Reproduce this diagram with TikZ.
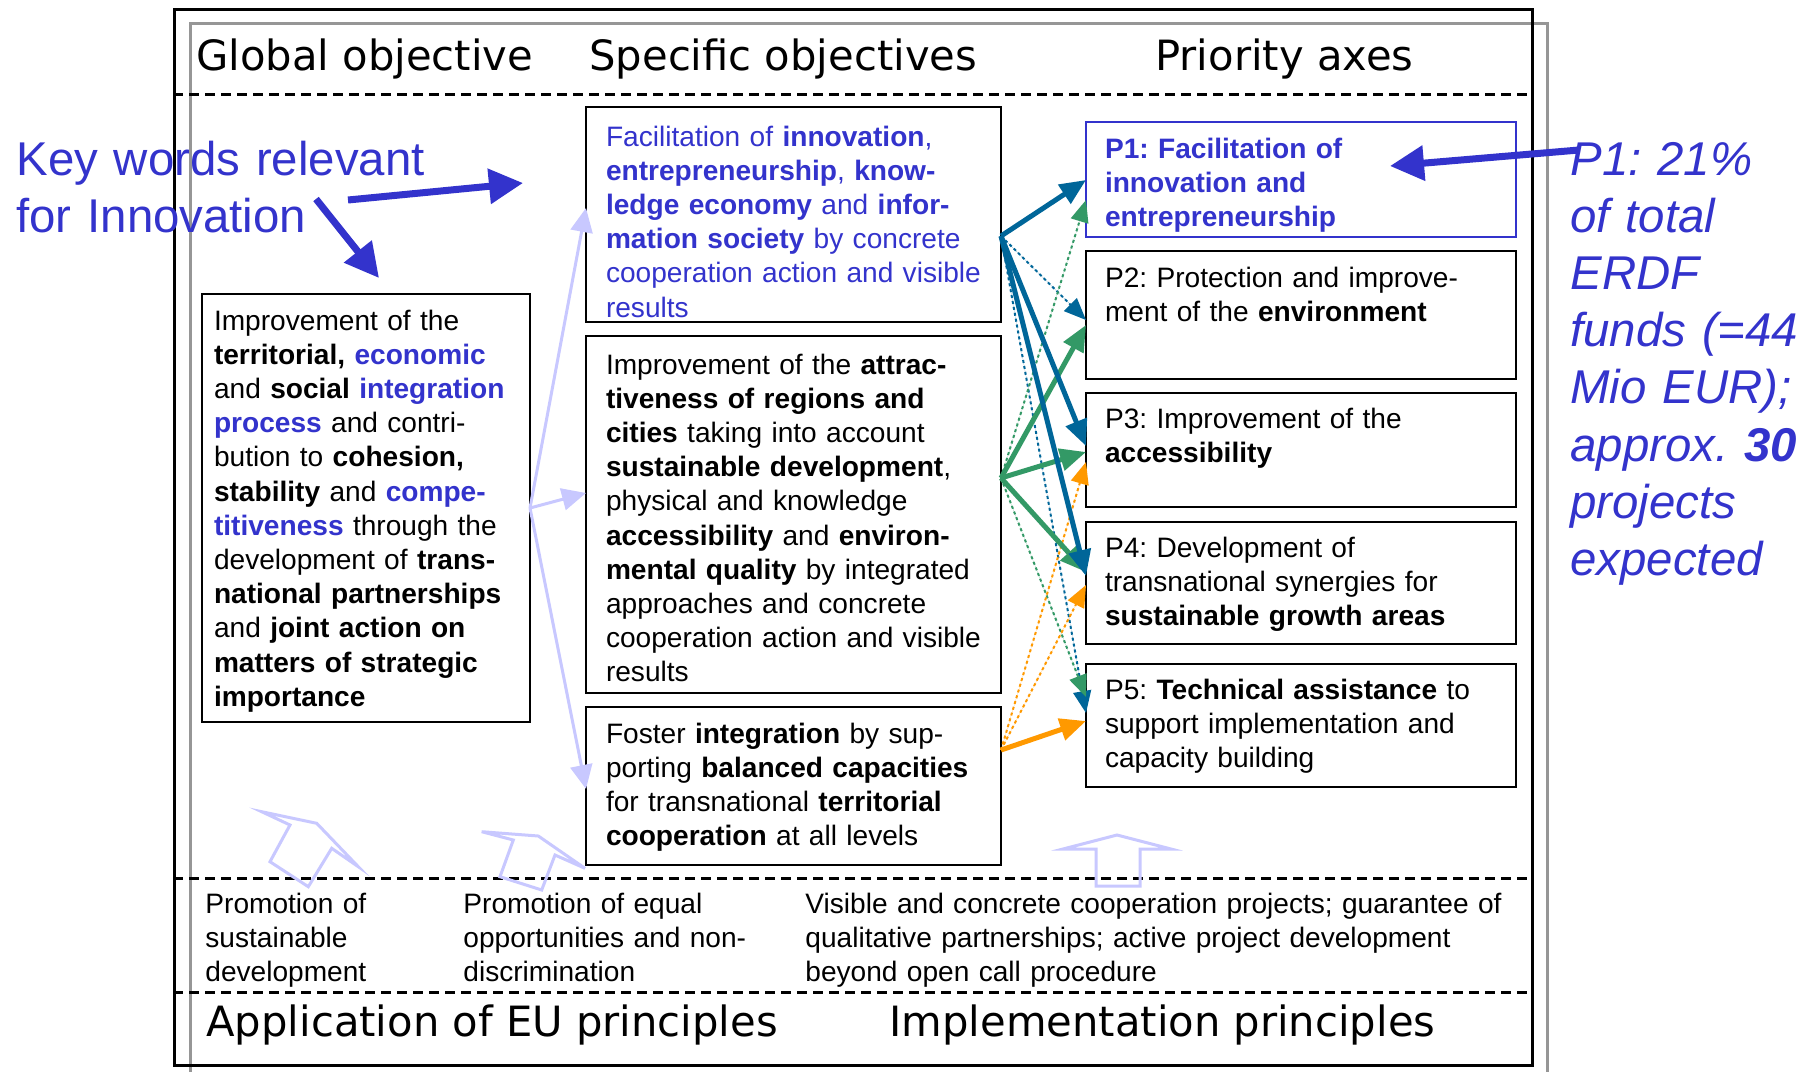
\documentclass[tikz,border=0pt]{standalone}
\usepackage{fontspec}
\setmainfont{Liberation Sans}
\newfontfamily\hdfont{DejaVu Sans}
\usetikzlibrary{arrows.meta}
\definecolor{kwblue}{RGB}{51,51,204}
\definecolor{ablue}{RGB}{0,102,153}
\definecolor{agreen}{RGB}{51,153,102}
\definecolor{aorange}{RGB}{255,153,0}
\definecolor{lav}{RGB}{200,200,255}
\definecolor{gframe}{RGB}{150,150,150}
\frenchspacing
\newcommand{\boxtxt}{\frenchspacing\fontsize{14.05pt}{17.1pt}\selectfont}
\newcommand{\headtxt}{\hdfont\fontsize{20.85pt}{24pt}\selectfont}
\newcommand{\annotxt}{\frenchspacing\fontsize{23.7pt}{28.6pt}\selectfont}
\newcommand{\kwb}[1]{\textcolor{kwblue}{\textbf{#1}}}
\begin{document}
\begin{tikzpicture}[x=0.5pt,y=-0.5pt,
  objbox/.style={draw=black, line width=1.4pt, anchor=north west, inner sep=0pt, outer sep=0pt, align=left, font=\boxtxt},
  plaintxt/.style={anchor=base west, inner sep=0pt, align=left, font=\boxtxt},
  headtxt/.style={anchor=base west, inner sep=0pt, font=\headtxt},
  annotxt/.style={anchor=base west, inner sep=0pt, align=left, font=\annotxt, text=kwblue},
  dline/.style={line width=1.5pt, dash pattern=on 5pt off 3pt},
  bigarrow/.style={draw=kwblue, line width=3.5pt, -{Triangle[length=17pt,width=17pt]}},
  lavarrow/.style={draw=lav, line width=1.5pt, -{Triangle[length=12pt,width=11pt]}},
  hollow/.style={draw=lav, line width=1.5pt, line join=miter},
  thk/.style={line width=2.5pt, -{Triangle[length=13pt,width=11pt]}},
  dotl/.style={line width=1pt, dash pattern=on 1.5pt off 1.5pt, -{Triangle[length=11pt,width=9pt]}},
  thkb/.style={thk, draw=ablue, fill=ablue},
  thkg/.style={thk, draw=agreen, fill=agreen},
  thko/.style={thk, draw=aorange, fill=aorange},
  dotb/.style={dotl, draw=ablue, fill=ablue},
  dotg/.style={dotl, draw=agreen, fill=agreen},
  doto/.style={dotl, draw=aorange, fill=aorange}]
\useasboundingbox (0,0) rectangle (1814,1071);
\fill[white] (0,0) rectangle (1814,1071);

% frames
\draw[gframe, line width=1.5pt] (190,1075) -- (190,23) -- (1547,23) -- (1547,1075);
\node[draw, line width=1.5pt, minimum width=679pt, minimum height=528pt, inner sep=0pt, anchor=north west] (frame) at (173,8) {};
\draw[dline] (frame.west |- 0,94) -- (frame.east |- 0,94);
\draw[dline] (frame.west |- 0,878) -- (frame.east |- 0,878);
\draw[dline] (frame.west |- 0,992) -- (frame.east |- 0,992);

% headings
\node[headtxt] (h1) at (196,70) {Global objective};
\node[headtxt] (h2) at (589,70) {Specific objectives};
\node[headtxt] (h3) at (1155,70) {Priority axes};
\node[headtxt] (h4) at (206,1036) {Application of EU principles};
\node[headtxt] (h5) at (889,1036) {Implementation principles};

% global objective
\node[objbox, text width=164pt, text height=18pt, text depth=196pt] (glob) at (202,294)
 {\leftskip=6pt Improvement of the\\
  \textbf{territorial,} \kwb{economic}\\
  and \textbf{social} \kwb{integration}\\
  \kwb{process} and contri-\\
  bution to \textbf{cohesion,}\\
  \textbf{stability} and \kwb{compe-}\\
  \kwb{titiveness} through the\\
  development of \textbf{trans-}\\
  \textbf{national partnerships}\\
  and \textbf{joint action on}\\
  \textbf{matters of strategic}\\
  \textbf{importance}\par};

% specific objectives
\node[objbox, text width=207.5pt, text height=19.5pt, text depth=88pt, text=kwblue] (spec1) at (586,107)
 {\leftskip=10pt Facilitation of \textbf{innovation},\\
  \textbf{entrepreneurship}, \textbf{know-}\\
  \textbf{ledge economy} and \textbf{infor-}\\
  \textbf{mation society} by concrete\\
  cooperation action and visible\\
  results\par};
\node[objbox, text width=207.5pt, text height=19pt, text depth=159.5pt] (spec2) at (586,336)
 {\leftskip=10pt Improvement of the \textbf{attrac-}\\
  \textbf{tiveness of regions and}\\
  \textbf{cities} taking into account\\
  \textbf{sustainable development},\\
  physical and knowledge\\
  \textbf{accessibility} and \textbf{environ-}\\
  \textbf{mental quality} by integrated\\
  approaches and concrete\\
  cooperation action and visible\\
  results\par};
\node[objbox, text width=207.5pt, text height=18pt, text depth=61pt] (spec3) at (586,707)
 {\leftskip=10pt Foster \textbf{integration} by sup-\\
  porting \textbf{balanced capacities}\\
  for transnational \textbf{territorial}\\
  \textbf{cooperation} at all levels\par};

% priority axes
\node[objbox, draw=kwblue, line width=1.2pt, text=kwblue, text width=215pt, text height=18pt, text depth=39.5pt] (p1) at (1086,122)
 {\leftskip=9.5pt\bfseries P1: Facilitation of\\ innovation and\\ entrepreneurship\par};
\node[objbox, text width=215pt, text height=18pt, text depth=46pt] (p2) at (1086,251)
 {\leftskip=9.5pt P2: Protection and improve-\\ ment of the \textbf{environment}\par};
\node[objbox, text width=215pt, text height=17.75pt, text depth=39.25pt] (p3) at (1086,393)
 {\leftskip=9.5pt P3: Improvement of the\\ \textbf{accessibility}\par};
\node[objbox, text width=215pt, text height=17.5pt, text depth=43.5pt] (p4) at (1086,522)
 {\leftskip=9.5pt P4: Development of\\ transnational synergies for\\ \textbf{sustainable growth areas}\par};
\node[objbox, text width=215pt, text height=17.75pt, text depth=43.75pt] (p5) at (1086,664)
 {\leftskip=9.5pt P5: \textbf{Technical assistance} to\\ support implementation and\\ capacity building\par};

% bottom principles
\node[plaintxt, text width=100pt] (b1) at (205,913) {Promotion of\\ sustainable\\ development};
\node[plaintxt, text width=150pt] (b2) at (463,913) {Promotion of equal\\ opportunities and non-\\ discrimination};
\node[plaintxt, text width=360pt] (b3) at (805,913) {Visible and concrete cooperation projects; guarantee of\\ qualitative partnerships; active project development\\ beyond open call procedure};

% annotations
\node[annotxt, text width=230pt] (kw) at (16,175) {Key words relevant\\ for Innovation};
\node[annotxt, text width=125pt, font=\annotxt\itshape] (note) at (1570,175)
 {P1: 21\%\\ of total\\ ERDF\\ funds (=44\\ Mio EUR);\\ approx. \textbf{30}\\ projects\\ expected};

% hollow arrows
\draw[hollow] (261.7,811.7) -- (316.7,823.3) -- (358.3,866.7) -- (331.7,848.3) -- (308.3,886.7) -- (270,861.7) -- (290,825) -- cycle;
\draw[hollow] (481.7,831.7) -- (538.3,836) -- (585,868.3) -- (555,855) -- (541.7,890) -- (500,876.7) -- (513.3,840) -- cycle;
\draw[hollow] (1117,835) -- (1171,849) -- (1140,849) -- (1140,886) -- (1096,886) -- (1096,849) -- (1063,849) -- cycle;

% global -> specific
\draw[lavarrow] (glob.east) -- (spec1.west |- 0,208);
\draw[lavarrow] (glob.east) -- (spec2.west |- 0,493);
\draw[lavarrow] (glob.east) -- (spec3.west |- 0,789);

% specific -> priority
\coordinate (s1) at (spec1.east |- 0,236);
\coordinate (s2) at (spec2.east |- 0,478);
\coordinate (s3) at (spec3.east |- 0,750);
\draw[dotb] (s1) -- (p2.west |- 0,320);
\draw[dotb] (s1) -- (p5.west |- 0,713);
\draw[dotg] (s2) -- (p1.west |- 0,200);
\draw[dotg] (s2) -- (p5.west |- 0,697);
\draw[doto] (s3) -- (p3.west |- 0,462);
\draw[doto] (s3) -- (p4.west |- 0,585);
\draw[thkg] (s2) -- (p2.west |- 0,325);
\draw[thkg] (s2) -- (p3.west |- 0,452);
\draw[thkg] (s2) -- (p4.west |- 0,572);
\draw[thkb] (s1) -- (p1.west |- 0,180);
\draw[thkb] (s1) -- (p3.west |- 0,446);
\draw[thkb] (s1) -- (p4.west |- 0,576);
\draw[thko] (s3) -- (p5.west |- 0,721);

% key word arrows
\coordinate (kwa) at (348,200);
\coordinate (kwt) at (523,183);
\coordinate (kwc) at (316,199);
\coordinate (kwu) at (379,278);
\draw[bigarrow] (kwa) -- (kwt);
\draw[bigarrow] (kwc) -- (kwu);
\coordinate (nta) at (1579,150);
\coordinate (ntt) at (1390,166);
\draw[bigarrow] (nta) -- (ntt);
\end{tikzpicture}
\end{document}
